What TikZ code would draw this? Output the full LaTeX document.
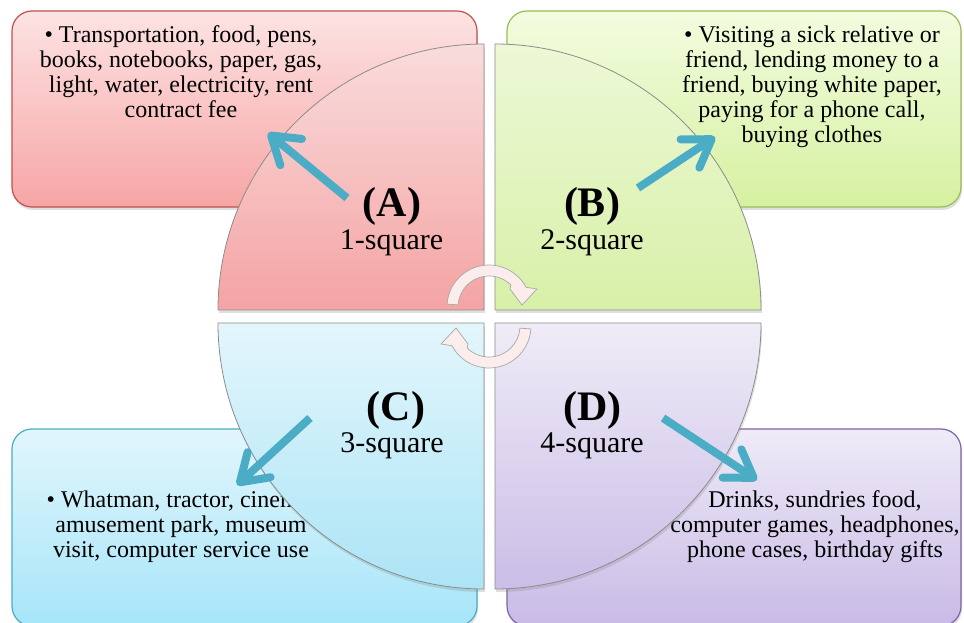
\documentclass[tikz,border=0pt]{standalone}
\usepackage{fontspec}
\setmainfont{Liberation Serif}
\usetikzlibrary{arrows.meta,shadows}
\definecolor{boxAtop}{HTML}{FDE3E3}\definecolor{boxAbot}{HTML}{F7A5A5}\definecolor{boxAline}{HTML}{C0504D}
\definecolor{boxBtop}{HTML}{F3FCE0}\definecolor{boxBbot}{HTML}{D6F1A0}\definecolor{boxBline}{HTML}{9BBB59}
\definecolor{boxCtop}{HTML}{E2F6FC}\definecolor{boxCbot}{HTML}{A6E5F9}\definecolor{boxCline}{HTML}{4BACC6}
\definecolor{boxDtop}{HTML}{EFEBF7}\definecolor{boxDbot}{HTML}{C8BAE6}\definecolor{boxDline}{HTML}{8064A2}
\definecolor{qAtop}{HTML}{F9DCDC}\definecolor{qAbot}{HTML}{F5A3A3}
\definecolor{qBtop}{HTML}{EDF8D6}\definecolor{qBbot}{HTML}{D8F0A8}
\definecolor{qCtop}{HTML}{E3F6FC}\definecolor{qCbot}{HTML}{ACE4F6}
\definecolor{qDtop}{HTML}{EFECF7}\definecolor{qDbot}{HTML}{CBBDE7}
\definecolor{pointcol}{HTML}{4BACC6}
\definecolor{cycfill}{HTML}{FCEDED}\definecolor{cycline}{HTML}{A8A8A8}
\definecolor{quadline}{HTML}{8C8C8C}
\begin{document}
\begin{tikzpicture}[x=1pt,y=1pt,
  card/.style={rounded corners=20pt, line width=1.2pt, inner sep=0pt,
    drop shadow={shadow xshift=1pt, shadow yshift=-3pt, opacity=0.25}},
  quad/.style={draw=quadline, line width=0.8pt,
    drop shadow={shadow xshift=1pt, shadow yshift=-3pt, opacity=0.25}},
  body/.style={font=\fontsize{24}{25}\selectfont, align=center, inner sep=0pt, anchor=north},
  big/.style={font=\fontsize{42}{42}\selectfont\bfseries, inner sep=0pt, anchor=base},
  sub/.style={font=\fontsize{30}{30}\selectfont, inner sep=0pt, anchor=base},
  pointer/.style={draw=pointcol, line width=8pt, -{Straight Barb[length=26pt,width=34pt,round]}},
  cyc/.style={fill=cycfill, draw=cycline, line width=0.7pt}
]
\useasboundingbox (0,0) rectangle (964,622);
% boxes
\node[card, top color=boxAtop, bottom color=boxAbot, draw=boxAline, minimum width=465pt, minimum height=196pt] (boxA) at (244.5,513) {};
\node[card, top color=boxBtop, bottom color=boxBbot, draw=boxBline, minimum width=454pt, minimum height=196pt] (boxB) at (734,513) {};
\node[card, top color=boxCtop, bottom color=boxCbot, draw=boxCline, minimum width=465pt, minimum height=197pt] (boxC) at (244.5,94.5) {};
\node[card, top color=boxDtop, bottom color=boxDbot, draw=boxDline, minimum width=454pt, minimum height=197pt] (boxD) at (734,94.5) {};
% body texts
\node[body] (txtA) at (181,596.4) {• Transportation, food, pens,\\ books, notebooks, paper, gas,\\ light, water, electricity, rent\\ contract fee};
\node[body] (txtB) at (812,596.4) {• Visiting a sick relative or\\ friend, lending money to a\\ friend, buying white paper,\\ paying for a phone call,\\ buying clothes};
\node[body] (txtC) at (181,131.4) {• Whatman, tractor, cinema,\\ amusement park, museum\\ visit, computer service use};
\node[body] (txtD) at (815,131.4) {Drinks, sundries food,\\ computer games, headphones,\\ phone cases, birthday gifts};
% quadrants
\path[quad, top color=qAtop, bottom color=qAbot] (484,312) -- (218,312) arc[start angle=180,end angle=90,radius=266] -- cycle;
\path[quad, top color=qBtop, bottom color=qBbot] (495,312) -- (495,578) arc[start angle=90,end angle=0,radius=266] -- cycle;
\path[quad, top color=qCtop, bottom color=qCbot] (484,299) -- (218,299) arc[start angle=180,end angle=270,radius=266] -- cycle;
\path[quad, top color=qDtop, bottom color=qDbot] (495,299) -- (761,299) arc[start angle=0,end angle=-90,radius=266] -- cycle;
% cycle arrows
\path[cyc] ([shift={(489,315)}]176:42) arc[start angle=176,end angle=28,radius=42]
  -- (537,333) -- (522,317) -- (510,333) -- ([shift={(489,315)}]45:31)
  arc[start angle=45,end angle=176,radius=31] -- cycle;
\begin{scope}[rotate around={180:(489,305.5)}]
\path[cyc] ([shift={(489,315)}]176:42) arc[start angle=176,end angle=28,radius=42]
  -- (537,333) -- (522,317) -- (510,333) -- ([shift={(489,315)}]45:31)
  arc[start angle=45,end angle=176,radius=31] -- cycle;
\end{scope}
% labels
\node[big] (labA) at (392,405) {(A)};
\node[sub] (subA) at (391.5,372) {1-square};
\node[big] (labB) at (592,405) {(B)};
\node[sub] (subB) at (592,372) {2-square};
\node[big] (labC) at (396,202) {(C)};
\node[sub] (subC) at (392,170) {3-square};
\node[big] (labD) at (592.5,202) {(D)};
\node[sub] (subD) at (592,170) {4-square};
% pointers
\coordinate (tailA) at (347,424); \coordinate (tipA) at (268,489);
\coordinate (tailB) at (638,434); \coordinate (tipB) at (715,485);
\coordinate (tailC) at (310,204); \coordinate (tipC) at (237,137);
\coordinate (tailD) at (663,204); \coordinate (tipD) at (757,142);
\draw[pointer] (tailA) -- (tipA);
\draw[pointer] (tailB) -- (tipB);
\draw[pointer] (tailC) -- (tipC);
\draw[pointer] (tailD) -- (tipD);
\end{tikzpicture}
\end{document}
